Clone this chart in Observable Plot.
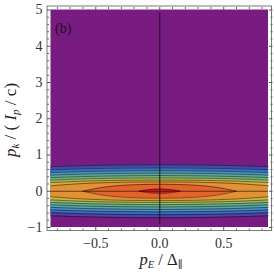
<!DOCTYPE html>
<html>
<head>
<meta charset="utf-8">
<script src="https://cdn.jsdelivr.net/npm/d3@7"></script>
<script src="https://cdn.jsdelivr.net/npm/@observablehq/plot@0.6"></script>
<style>
  html, body { margin: 0; padding: 0; background: #fff; }
  svg { display: block; }
</style>
</head>
<body>
<div id="chart"></div>
<script>
// x sample positions where the band boundaries were read (p_E / Δ∥)
const xs = [-0.85, -0.6, -0.3, 0, 0.3, 0.6, 0.85];
// half-heights (in p_k/(I_p/c)) of contour levels 1..8 at xs
const level1 = [0.677, 0.705, 0.725, 0.732, 0.725, 0.705, 0.677];
const level2 = [0.592, 0.620, 0.638, 0.645, 0.638, 0.620, 0.592];
const level3 = [0.515, 0.543, 0.562, 0.570, 0.562, 0.543, 0.515];
const level4 = [0.445, 0.474, 0.494, 0.502, 0.494, 0.474, 0.445];
const level5 = [0.375, 0.405, 0.426, 0.434, 0.426, 0.405, 0.375];
const level6 = [0.308, 0.340, 0.362, 0.370, 0.362, 0.340, 0.308];
const level7 = [0.240, 0.278, 0.302, 0.310, 0.302, 0.278, 0.240];
const level8 = [0.150, 0.212, 0.248, 0.258, 0.248, 0.212, 0.150];
// closed inner ellipses
const xs9 = [-0.6, -0.45, -0.3, -0.15, 0, 0.15, 0.3, 0.45, 0.6];
const level9 = [0, 0.105, 0.16, 0.185, 0.193, 0.185, 0.16, 0.105, 0];
const xs10 = [-0.16, -0.08, 0, 0.08, 0.16];
const level10 = [0, 0.045, 0.06, 0.045, 0];

const palette = ["#781C81", "#4548A8", "#3F6EC0", "#4A92C0", "#58A8A8", "#6DB388",
                 "#A3BC5A", "#CDAF42", "#E29136", "#E4632C", "#D92120"];

const xTicks = [-0.5, 0, 0.5];
const xMinor = [-0.8, -0.7, -0.6, -0.4, -0.3, -0.2, -0.1, 0.1, 0.2, 0.3, 0.4, 0.6, 0.7, 0.8];
const yTicks = [-1, 0, 1, 2, 3, 4, 5];
const yMinor = [-0.8, -0.6, -0.4, -0.2, 0.2, 0.4, 0.6, 0.8, 1.2, 1.4, 1.6, 1.8, 2.2, 2.4, 2.6, 2.8,
                3.2, 3.4, 3.6, 3.8, 4.2, 4.4, 4.6, 4.8];

const xDomain = [-0.85, 0.85];
const yDomain = [-1, 5];

const bandSpecs = [
  [xs, level1], [xs, level2], [xs, level3], [xs, level4], [xs, level5],
  [xs, level6], [xs, level7], [xs, level8], [xs9, level9], [xs10, level10]
];
const bands = bandSpecs.map(([bx, bh], i) =>
  bx.map((x, j) => ({x, h: bh[j], level: i + 1}))
);

const fmtX = d => (d < 0 ? "\u2212" : "") + Math.abs(d).toFixed(1);
const fmtY = d => (d < 0 ? "\u2212" : "") + Math.abs(d);
const blank = () => "";

const curve = "catmull-rom";
const marks = [
  Plot.rect([{}], {x1: () => xDomain[0], x2: () => xDomain[1], y1: () => yDomain[0], y2: () => yDomain[1], fill: palette[0]})
];
bands.forEach((b, i) => {
  marks.push(Plot.areaY(b, {x: "x", y1: d => -d.h, y2: d => d.h, fill: palette[i + 1], curve}));
  marks.push(Plot.lineY(b, {x: "x", y: d => d.h, stroke: "#000", strokeWidth: 0.6, strokeOpacity: 0.75, curve}));
  marks.push(Plot.lineY(b, {x: "x", y: d => -d.h, stroke: "#000", strokeWidth: 0.6, strokeOpacity: 0.75, curve}));
});
marks.push(
  Plot.ruleY([0], {x1: xDomain[0], x2: xDomain[1], stroke: "#000", strokeWidth: 0.7, strokeOpacity: 0.8}),
  Plot.ruleX([0], {y1: yDomain[0], y2: yDomain[1], stroke: "#1a1a1a", strokeWidth: 1.2, strokeOpacity: 0.85, insetTop: -3, insetBottom: -3}),
  Plot.rect([{}], {x1: () => xDomain[0], x2: () => xDomain[1], y1: () => yDomain[0], y2: () => yDomain[1],
    fill: "none", stroke: "#7a7a7a", strokeWidth: 1, inset: -3.5}),
  // bottom
  Plot.axisX({ticks: xTicks, anchor: "bottom", tickSize: 3.5, tickPadding: 7, tickFormat: fmtX, label: null, stroke: "#555", fill: "#333", fontSize: 14}),
  Plot.axisX({ticks: xMinor, anchor: "bottom", tickSize: 2, dy: 1.5, tickFormat: blank, label: null, stroke: "#666"}),
  // top
  Plot.axisX({ticks: xTicks, anchor: "top", tickSize: 3.5, tickFormat: blank, label: null, stroke: "#555"}),
  Plot.axisX({ticks: xMinor, anchor: "top", tickSize: 2, dy: -1.5, tickFormat: blank, label: null, stroke: "#666"}),
  // left
  Plot.axisY({ticks: yTicks, anchor: "left", tickSize: 3.5, tickPadding: 5, tickFormat: fmtY, label: null, stroke: "#555", fill: "#333", fontSize: 14}),
  Plot.axisY({ticks: yMinor, anchor: "left", tickSize: 2, dx: -1.5, tickFormat: blank, label: null, stroke: "#666"}),
  // right
  Plot.axisY({ticks: yTicks, anchor: "right", tickSize: 3.5, tickFormat: blank, label: null, stroke: "#555"}),
  Plot.axisY({ticks: yMinor, anchor: "right", tickSize: 2, dx: 1.5, tickFormat: blank, label: null, stroke: "#666"}),
  Plot.text(["(b)"], {x: -0.85, y: 5, dx: 4, dy: 19, fill: "#1b0c22", fontSize: 14, textAnchor: "start", lineAnchor: "middle"})
);

const svg = Plot.plot({
  width: 274,
  height: 277,
  marginLeft: 50.5,
  marginRight: 6,
  marginTop: 9.5,
  marginBottom: 50,
  x: {domain: xDomain, axis: null},
  y: {domain: yDomain, axis: null},
  style: {fontFamily: "'Liberation Serif', 'DejaVu Serif', serif", fontSize: "14px", background: "#fff", overflow: "visible"},
  marks
});
document.getElementById("chart").appendChild(svg);

const s = d3.select(svg);
const font = "'Liberation Serif', 'DejaVu Serif', serif";
// x label: p_E / Δ_∥
const xl = s.append("text")
  .attr("x", 161).attr("y", 265)
  .attr("text-anchor", "middle")
  .attr("font-family", font).attr("font-size", 16.5).attr("fill", "#222");
xl.append("tspan").attr("font-style", "italic").text("p");
xl.append("tspan").attr("font-style", "italic").attr("font-size", 10.5).attr("dy", 3).text("E");
xl.append("tspan").attr("dy", -3).text(" / \u0394");
xl.append("tspan").attr("font-size", 10.5).attr("dy", 3).text("\u2225");

// y label: p_k / (I_p / c)
const yl = s.append("text")
  .attr("transform", "translate(16,120) rotate(-90)")
  .attr("text-anchor", "middle")
  .attr("font-family", font).attr("font-size", 17).attr("fill", "#222");
yl.append("tspan").attr("font-style", "italic").text("p");
yl.append("tspan").attr("font-style", "italic").attr("font-size", 11).attr("dy", 3).text("k");
yl.append("tspan").attr("dy", -3).text(" / ( ");
yl.append("tspan").attr("font-style", "italic").text("I");
yl.append("tspan").attr("font-style", "italic").attr("font-size", 11).attr("dy", 3).text("p");
yl.append("tspan").attr("dy", -3).text(" / c)");
</script>
</body>
</html>
